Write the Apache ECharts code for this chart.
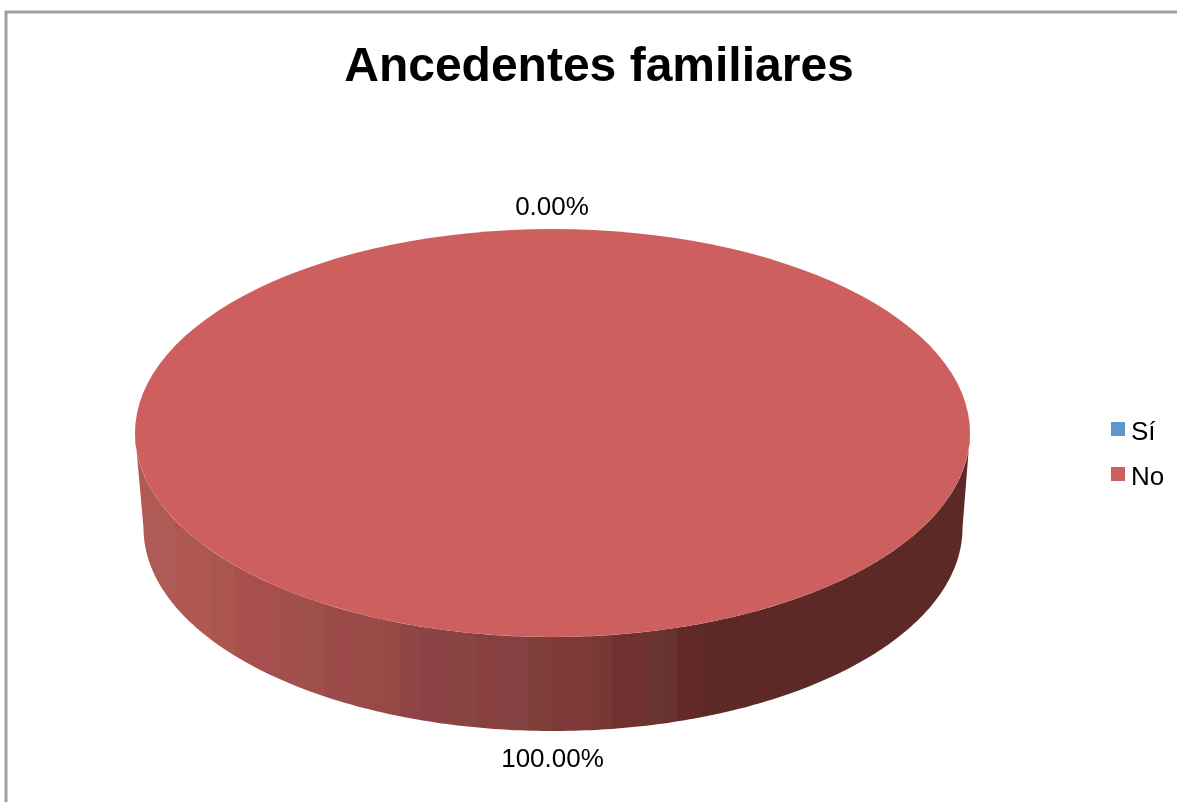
<!DOCTYPE html>
<html>
<head>
<meta charset="utf-8">
<title>Ancedentes familiares</title>
<script src="https://cdn.jsdelivr.net/npm/echarts@6/dist/echarts.min.js"></script>
<style>
html,body{margin:0;padding:0;background:#fff;overflow:hidden}
#chart{width:1177px;height:802px}
</style>
</head>
<body>
<div id="chart"></div>
<script>
// Data
var titleText = 'Ancedentes familiares';
var categories = ['Sí', 'No'];
var values = [0, 100];

// Styles
var FONT = '"Liberation Sans", Arial, sans-serif';
var sliceColors = ['#5F96CC', '#CD605E'];
var TOP = { cx: 552.5, cy: 433, rx: 417.5, ry: 204 };
var BOTTOM = { cx: 553, cy: 528, rx: 409.5, ry: 203 };
var WALL_LEFT = 135, WALL_RIGHT = 970;
var wallBands = [
  [175, '#B05A55'], [212, '#AE5851'], [235, '#AA564E'], [247, '#AB4F4E'],
  [280, '#A74F4E'], [313, '#A2504B'], [325, '#9F4F49'], [360, '#9B4A49'],
  [385, '#974A46'], [400, '#944943'], [420, '#8F4546'], [447, '#8C4345'],
  [475, '#8A4441'], [480, '#86423C'], [503, '#883F3F'], [527, '#844141'],
  [537, '#7F3F38'], [553, '#7D3F38'], [593, '#7E3838'], [612, '#763932'],
  [647, '#703030'], [663, '#6B3331'], [677, '#67322D'], [703, '#612A28'],
  [970, '#5C2927']
];

function wallGradient() {
  var stops = [], from = 0, span = WALL_RIGHT - WALL_LEFT;
  wallBands.forEach(function (b) {
    var to = (b[0] - WALL_LEFT) / span;
    stops.push({ offset: from, color: b[1] }, { offset: to, color: b[1] });
    from = to;
  });
  return { type: 'linear', x: WALL_LEFT, y: 0, x2: WALL_RIGHT, y2: 0, global: true, colorStops: stops };
}

function pointOn(e, a) {
  return [e.cx + e.rx * Math.sin(a), e.cy - e.ry * Math.cos(a)];
}

var total = values.reduce(function (s, v) { return s + v; }, 0);
var startShares = [];
values.reduce(function (s, v, i) { startShares[i] = s; return s + v; }, 0);

function makeRenderItem(i) {
  return function () {
    var v = values[i];
    var a0 = startShares[i] / total * Math.PI * 2;
    var a1 = (startShares[i] + v) / total * Math.PI * 2;
    var mid = (a0 + a1) / 2;
    var children = [];

    // Side wall: the part of the slice on the visible front half
    var from = Math.max(a0, Math.PI / 2), to = Math.min(a1, Math.PI * 1.5);
    if (to > from) {
      var pts = [], n = 240, k;
      for (k = 0; k <= n; k++) pts.push(pointOn(TOP, from + (to - from) * k / n));
      for (k = n; k >= 0; k--) pts.push(pointOn(BOTTOM, from + (to - from) * k / n));
      children.push({
        type: 'polygon', silent: true,
        shape: { points: pts },
        style: { fill: wallGradient(), stroke: null }
      });
    }
    // Top face
    if (a1 > a0) {
      children.push({
        type: 'sector', silent: true,
        x: TOP.cx, y: TOP.cy, scaleY: TOP.ry / TOP.rx,
        shape: {
          cx: 0, cy: 0, r0: 0, r: TOP.rx, clockwise: true,
          startAngle: a0 - Math.PI / 2, endAngle: a1 - Math.PI / 2
        },
        style: { fill: sliceColors[i], stroke: null }
      });
    }
    // Percent label outside the slice's middle
    var front = Math.cos(mid) < 0;
    var edge = pointOn(front ? BOTTOM : TOP, mid);
    var gap = front ? 29 : 21;
    children.push({
      type: 'text', silent: true, z2: 10,
      x: edge[0] + gap * Math.sin(mid) - 0.5,
      y: edge[1] - gap * Math.cos(mid),
      style: {
        text: (v / total * 100).toFixed(2) + '%',
        fill: '#000', font: '26px ' + FONT,
        align: 'center', verticalAlign: 'middle'
      }
    });
    return { type: 'group', children: children };
  };
}

var chart = echarts.init(document.getElementById('chart'), null, { renderer: 'canvas' });
chart.setOption({
  animation: false,
  backgroundColor: '#fff',
  title: {
    text: titleText,
    left: 594, top: 39, textAlign: 'center',
    textStyle: { fontFamily: FONT, fontSize: 48, fontWeight: 'bold', color: '#000' }
  },
  legend: {
    orient: 'vertical', left: 1106, top: 405,
    icon: 'rect', itemWidth: 14, itemHeight: 14, itemGap: 7,
    selectedMode: false,
    data: categories,
    formatter: function (n) { return '{t|' + n + '}'; },
    textStyle: {
      fontFamily: FONT, fontSize: 26, color: '#000',
      rich: { t: { fontFamily: FONT, fontSize: 26, color: '#000', height: 30, lineHeight: 30, padding: [8, 0, 0, 1] } }
    }
  },
  tooltip: { show: false },
  graphic: [
    { type: 'line', silent: true, shape: { x1: 5, y1: 12, x2: 1177, y2: 12 }, style: { stroke: '#A0A0A0', lineWidth: 3 } },
    { type: 'line', silent: true, shape: { x1: 6, y1: 11, x2: 6, y2: 802 }, style: { stroke: '#A0A0A0', lineWidth: 3 } }
  ],
  series: categories.map(function (name, i) {
    return {
      type: 'custom', name: name, coordinateSystem: 'none',
      color: sliceColors[i], itemStyle: { color: sliceColors[i] },
      renderItem: makeRenderItem(i),
      data: [[values[i]]],
      silent: true
    };
  })
});
</script>
</body>
</html>
